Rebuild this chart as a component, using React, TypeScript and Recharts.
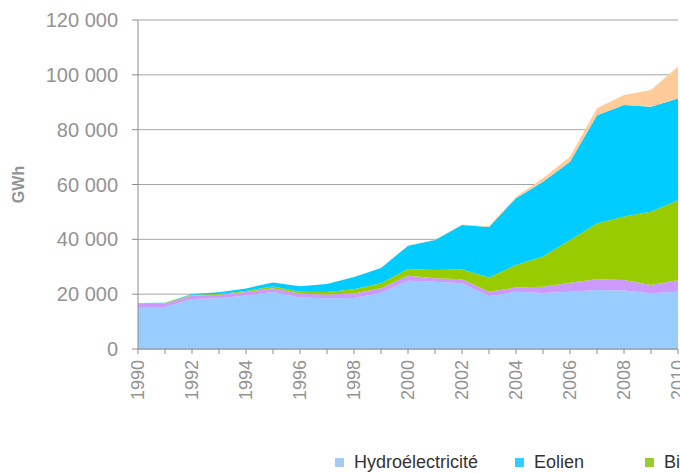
import React from 'react';
import { AreaChart, Area, XAxis, YAxis, CartesianGrid } from 'recharts';

const years = [
  '1990', '1991', '1992', '1993', '1994', '1995', '1996', '1997', '1998', '1999', '2000',
  '2001', '2002', '2003', '2004', '2005', '2006', '2007', '2008', '2009', '2010',
];

// GWh, stacked bottom to top
const hydro = [15300, 15300, 18200, 18500, 19500, 20800, 18800, 18500, 18600, 20500, 24900, 24500, 24000, 19300, 20900, 20400, 20900, 21500, 21300, 20300, 20900];
const dechets = [1200, 1200, 1300, 1300, 1300, 1350, 1350, 1400, 1600, 1700, 1800, 1300, 1400, 1600, 1500, 2300, 3300, 3900, 3900, 3000, 4300];
const biomasse = [200, 250, 300, 300, 400, 650, 750, 900, 1600, 1800, 2500, 3000, 3600, 5200, 8200, 11000, 15600, 20400, 23100, 26800, 29100];
const eolien = [70, 100, 280, 600, 900, 1500, 2000, 2900, 4500, 5500, 8500, 11000, 16200, 18400, 24400, 27300, 28500, 39500, 40700, 38300, 37100];
const solaire = [0, 0, 0, 0, 0, 10, 10, 20, 30, 40, 60, 120, 190, 310, 560, 1300, 1800, 2500, 3600, 6100, 11600];

const yTicks = [0, 20000, 40000, 60000, 80000, 100000, 120000];

const series = [
  { key: 'hydro', name: 'Hydroélectricité', color: '#99ccff', legend: '#a6cbf2' },
  { key: 'dechets', name: 'Déchets', color: '#cc99ff', legend: '#cc99ff' },
  { key: 'biomasse', name: 'Biomasse', color: '#99cc00', legend: '#99cc33' },
  { key: 'eolien', name: 'Eolien', color: '#00ccff', legend: '#33ccff' },
  { key: 'solaire', name: 'Solaire', color: '#ffcc99', legend: '#ffcc99' },
];

// legend order as in the source chart (cut at the right edge)
const legendOrder = ['hydro', 'eolien', 'biomasse', 'dechets', 'solaire'];
const legendLeft = [335, 515, 645, 770, 890];

const data = years.map((year, i) => ({
  year,
  hydro: hydro[i],
  dechets: dechets[i],
  biomasse: biomasse[i],
  eolien: eolien[i],
  solaire: solaire[i],
}));

const FONT = '"Liberation Sans", Arial, sans-serif';
const TEXT = '#939393';

const fmt = (v: number) => String(v).replace(/\B(?=(\d{3})+(?!\d))/g, ' ');

const YearTick = (props: any) => {
  const { x, y, payload } = props;
  if (Number(payload.value) % 2 !== 0) return null;
  return (
    <g transform={`translate(${x}, ${y + 4}) rotate(-90)`}>
      <text x={0} y={0} dy="0.36em" textAnchor="end" fill={TEXT} fontSize={18} fontFamily={FONT}>
        {payload.value}
      </text>
    </g>
  );
};

const UnitLabel = (props: any) => {
  const vb = props.viewBox || { y: 20, height: 329 };
  const cy = vb.y + vb.height / 2;
  return (
    <text
      x={18}
      y={cy}
      transform={`rotate(-90, 18, ${cy})`}
      textAnchor="middle"
      dominantBaseline="central"
      fill={TEXT}
      fontSize={16}
      fontWeight="bold"
      fontFamily={FONT}
    >
      GWh
    </text>
  );
};

export default function App() {
  return (
    <div
      style={{
        position: 'fixed',
        left: 0,
        top: 0,
        width: 680,
        height: 474,
        overflow: 'hidden',
        background: '#fff',
        fontFamily: FONT,
      }}
    >
      <AreaChart
        width={700}
        height={474}
        data={data}
        margin={{ top: 20, right: 22, left: 0, bottom: 0 }}
      >
        <CartesianGrid vertical={false} stroke="#a6a6a6" />
        <XAxis
          dataKey="year"
          interval={0}
          height={125}
          tick={<YearTick />}
          tickSize={5}
          axisLine={{ stroke: '#8c8c8c' }}
          tickLine={{ stroke: '#8c8c8c' }}
        />
        <YAxis
          width={138}
          domain={[0, 120000]}
          ticks={yTicks}
          tickFormatter={fmt}
          tickSize={6}
          tickMargin={14}
          tick={{ fill: TEXT, fontSize: 20, fontFamily: FONT }}
          axisLine={{ stroke: '#8c8c8c' }}
          tickLine={{ stroke: '#8c8c8c' }}
          label={<UnitLabel />}
        />
        {series.map((s) => (
          <Area
            key={s.key}
            type="linear"
            dataKey={s.key}
            name={s.name}
            stackId="1"
            stroke="none"
            fill={s.color}
            fillOpacity={1}
            isAnimationActive={false}
          />
        ))}
      </AreaChart>
      {legendOrder.map((k, i) => {
        const s = series.find((x) => x.key === k)!;
        return (
          <div
            key={k}
            style={{
              position: 'absolute',
              left: legendLeft[i],
              top: 452,
              display: 'flex',
              alignItems: 'center',
              whiteSpace: 'nowrap',
              fontSize: 18,
              lineHeight: '20px',
              color: '#333',
            }}
          >
            <span style={{ display: 'inline-block', width: 9, height: 9, background: s.legend, marginRight: 10 }} />
            {s.name}
          </div>
        );
      })}
    </div>
  );
}
